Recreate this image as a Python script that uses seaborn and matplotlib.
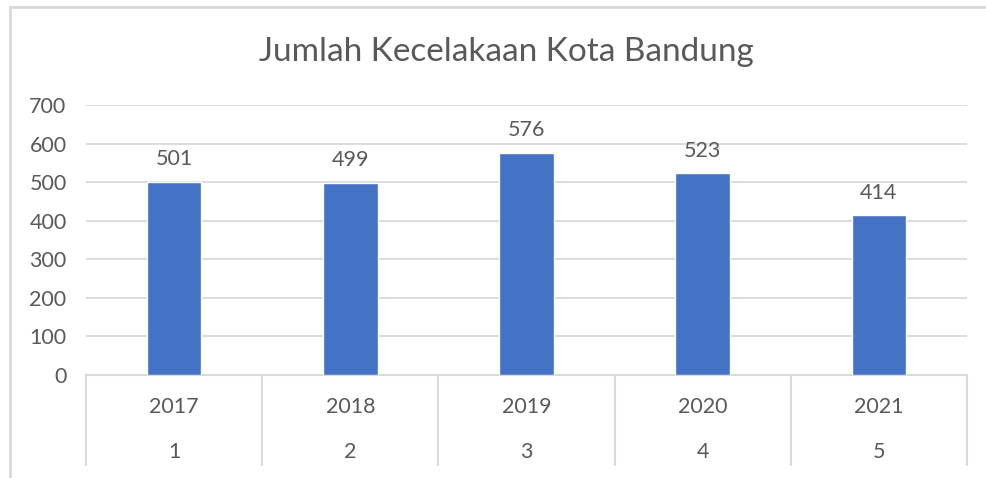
import matplotlib
matplotlib.use('Agg')
import matplotlib.pyplot as plt
import matplotlib.transforms as mtransforms
from matplotlib.lines import Line2D
import seaborn as sns
import pandas as pd

# Data
years = ['2017', '2018', '2019', '2020', '2021']
index_labels = ['1', '2', '3', '4', '5']
accidents = [501, 499, 576, 523, 414]
title = 'Jumlah Kecelakaan Kota Bandung'

bar_color = '#4472C4'
text_color = '#595959'
grid_color = '#D9D9D9'
fs = 15.5

sns.set_theme(style='white')
plt.rcParams['font.family'] = ['Lato', 'DejaVu Sans']

df = pd.DataFrame({'Tahun': years, 'Jumlah': accidents})

W, H = 987, 478
fig = plt.figure(figsize=(W / 100, H / 100), dpi=100)
ax = fig.add_axes([86 / W, (H - 375) / H, 881 / W, 270 / H])

sns.barplot(data=df, x='Tahun', y='Jumlah', color=bar_color, width=0.31,
            saturation=1, ax=ax, zorder=3)

# y axis
ax.set_ylim(0, 700)
ax.set_yticks(range(0, 701, 100))
ax.yaxis.grid(True, color=grid_color, lw=1.3, zorder=0)
ax.tick_params(axis='y', length=0, pad=14, labelsize=fs, labelcolor=text_color)
ax.set_ylabel('')
ax.set_xlabel('')

# x axis: two-level categories drawn by hand
ax.set_xlim(-0.5, len(years) - 0.5)
ax.set_xticks([])
for s in ['top', 'right', 'left']:
    ax.spines[s].set_visible(False)
ax.spines['bottom'].set_color(grid_color)
ax.spines['bottom'].set_linewidth(1.5)

trans = mtransforms.blended_transform_factory(ax.transData, ax.transAxes)
for i, (yr, idx) in enumerate(zip(years, index_labels)):
    ax.text(i, -32 / 270, yr, transform=trans, ha='center', va='center',
            fontsize=fs, color=text_color)
    ax.text(i, -77 / 270, idx, transform=trans, ha='center', va='center',
            fontsize=fs, color=text_color)
for b in range(len(years) + 1):
    ax.plot([b - 0.5, b - 0.5], [0, -90 / 270], transform=trans,
            color=grid_color, lw=1.5, clip_on=False)

# value labels
ax.bar_label(ax.containers[0], padding=9, fontsize=fs, color=text_color)

# title
fig.text(506 / W, (H - 52) / H, title, ha='center', va='center',
         fontsize=24, color=text_color)

# chart area border (top and left visible in the crop)
fig.add_artist(Line2D([10 / W, 1], [(H - 7) / H, (H - 7) / H],
                      transform=fig.transFigure, color=grid_color, lw=2))
fig.add_artist(Line2D([10 / W, 10 / W], [0, (H - 7) / H],
                      transform=fig.transFigure, color=grid_color, lw=2))

fig.savefig('out.png', dpi=100)
